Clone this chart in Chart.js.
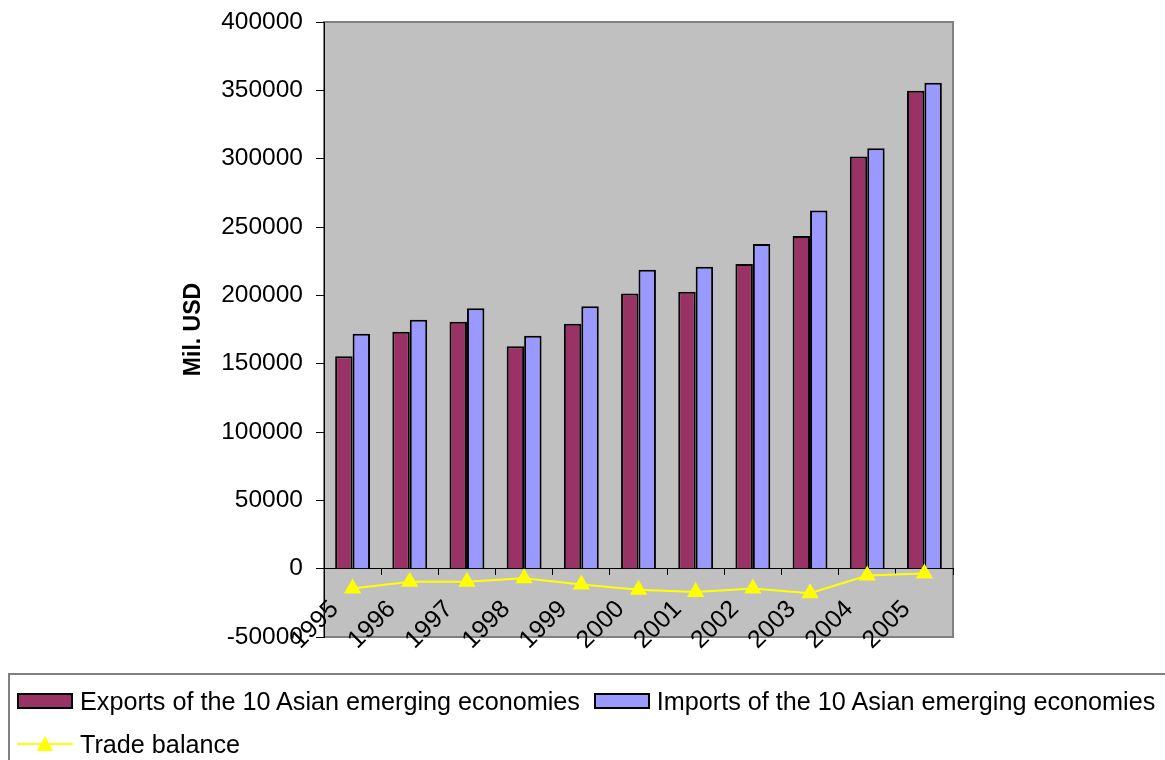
<!DOCTYPE html>
<html>
<head>
<meta charset="utf-8">
<script src="https://cdn.jsdelivr.net/npm/chart.js@4.4.1/dist/chart.umd.min.js"></script>
<style>
  body { margin: 0; background: #fff; font-family: "Liberation Sans", Arial, sans-serif; }
  #wrap { position: relative; width: 1165px; height: 760px; overflow: hidden; }
  #legend { position: absolute; left: 8px; top: 673px; width: 1180px; height: 120px;
            border: 2px solid #808080; box-sizing: border-box; }
  .row { position: absolute; left: 7px; height: 30px; display: flex; align-items: center;
         font-size: 25.2px; color: #000; white-space: nowrap; }
  .sw { width: 56px; height: 16px; box-sizing: border-box; border: 2px solid #000; margin-right: 7px; }
  .item { display: flex; align-items: center; margin-right: 14px; }
</style>
</head>
<body>
<div id="wrap">
  <canvas id="chart" width="1165" height="760"></canvas>
  <div id="legend"></div>
</div>
<script>
const years = ['1995', '1996', '1997', '1998', '1999', '2000', '2001', '2002', '2003', '2004', '2005'];
const exports_ = [155500, 173400, 180700, 162800, 179200, 201300, 202700, 223000, 243400, 301500, 349700];
const imports_ = [171900, 182100, 190600, 170400, 192000, 218800, 221000, 237600, 262100, 307700, 355500];
const balance = [-14500, -9500, -9500, -7000, -11500, -15500, -17000, -14500, -18000, -5000, -3500];

const font = '"Liberation Sans", Arial, sans-serif';

const plotBg = {
  id: 'plotBg',
  beforeDraw(chart) {
    const {ctx, chartArea: a} = chart;
    ctx.save();
    ctx.fillStyle = '#c0c0c0';
    ctx.fillRect(a.left, a.top, a.right - a.left, a.bottom - a.top);
    ctx.strokeStyle = '#808080';
    ctx.lineWidth = 2;
    ctx.strokeRect(a.left, a.top, a.right - a.left, a.bottom - a.top);
    ctx.restore();
  }
};

const chart = new Chart(document.getElementById('chart'), {
  type: 'bar',
  plugins: [plotBg],
  options: {
    responsive: false,
    animation: false,
    layout: { padding: { left: 0, top: 22, right: 212, bottom: 123 } },
    plugins: {
      legend: { display: false },
      tooltip: { enabled: false }
    },
    scales: {
      x: {
        type: 'category',
        position: { y: 0 },
        offset: true,
        afterFit: s => { s.paddingTop = 0; s.paddingBottom = 0; },
        grid: { offset: true, drawOnChartArea: false, color: '#000', tickLength: 6 },
        border: { color: '#000', width: 1 },
        ticks: {
          autoSkip: false, minRotation: 45, maxRotation: 45,
          padding: 20, labelOffset: -18,
          color: '#000', font: { family: font, size: 25 }
        }
      },
      y: {
        min: -50000,
        max: 400000,
        afterFit: s => { s.width = 324; s.paddingTop = 0; s.paddingBottom = 0; },
        grid: { drawOnChartArea: false, color: '#000', tickLength: 8 },
        border: { color: '#000', width: 1 },
        ticks: {
          stepSize: 50000, padding: 13, color: '#000',
          font: { family: font, size: 24.5 },
          callback: v => String(v)
        },
        title: {
          display: true, text: 'Mil. USD', color: '#000',
          padding: { top: 180, bottom: 0 },
          font: { family: font, size: 23, weight: 'bold' }
        }
      }
    }
  },
  data: {
    labels: years,
    datasets: [
      {
        label: 'Exports of the 10 Asian emerging economies',
        data: exports_,
        backgroundColor: '#993366',
        borderColor: '#000',
        borderWidth: 2,
        categoryPercentage: 0.61,
        barPercentage: 1,
        order: 1
      },
      {
        label: 'Imports of the 10 Asian emerging economies',
        data: imports_,
        backgroundColor: '#9999ff',
        borderColor: '#000',
        borderWidth: 2,
        categoryPercentage: 0.61,
        barPercentage: 1,
        order: 1
      },
      {
        type: 'line',
        label: 'Trade balance',
        data: balance,
        borderColor: '#ffff00',
        backgroundColor: '#ffff00',
        borderWidth: 2,
        pointStyle: 'triangle',
        pointRadius: 8,
        pointBackgroundColor: '#ffff00',
        pointBorderColor: '#ffff00',
        order: 0
      }
    ]
  }
});

// html legend built from the datasets
const legend = document.getElementById('legend');
const ds = chart.data.datasets;
const row1 = document.createElement('div');
row1.className = 'row';
row1.style.top = '11px';
const row2 = document.createElement('div');
row2.className = 'row';
row2.style.top = '54px';
ds.forEach((d, i) => {
  const item = document.createElement('div');
  item.className = 'item';
  if (d.type === 'line') {
    item.innerHTML = '<svg width="56" height="18" style="margin-right:7px"><line x1="0" y1="9" x2="56" y2="9" stroke="' +
      d.borderColor + '" stroke-width="2"/><polygon points="28,1 36,16 20,16" fill="' + d.backgroundColor + '"/></svg>';
  } else {
    const sw = document.createElement('div');
    sw.className = 'sw';
    sw.style.background = d.backgroundColor;
    item.appendChild(sw);
  }
  const t = document.createElement('span');
  t.textContent = d.label;
  item.appendChild(t);
  (i < 2 ? row1 : row2).appendChild(item);
});
legend.appendChild(row1);
legend.appendChild(row2);
</script>
</body>
</html>
